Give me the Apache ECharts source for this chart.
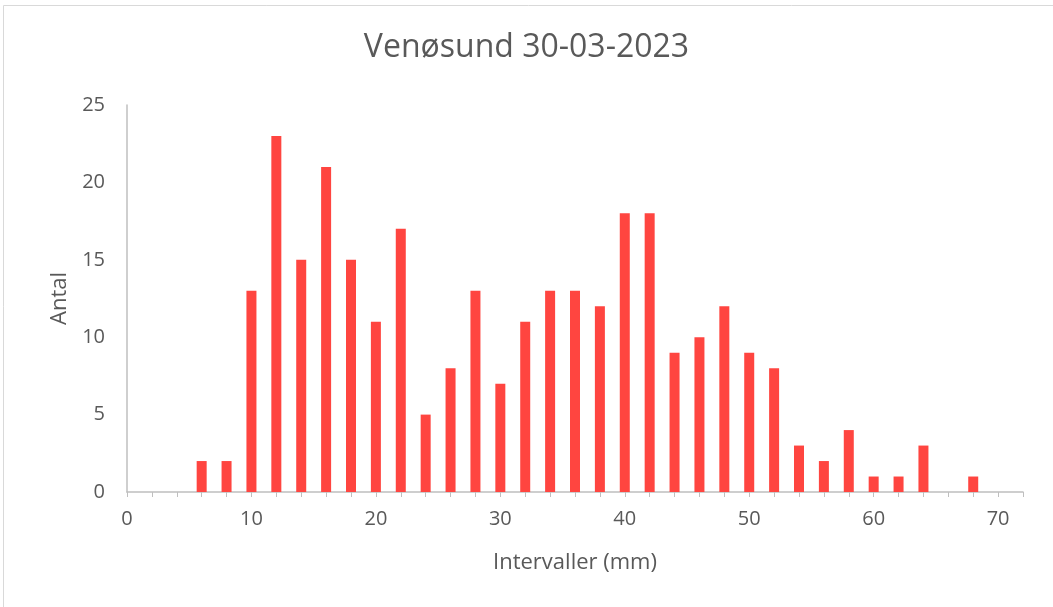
<!DOCTYPE html>
<html>
<head>
<meta charset="utf-8">
<script src="https://cdn.jsdelivr.net/npm/echarts@6/dist/echarts.min.js"></script>
<style>
  html, body { margin: 0; padding: 0; background: #fff; }
  #chart { width: 1053px; height: 607px; }
</style>
</head>
<body>
<div id="chart"></div>
<script>
  // Intervaller (mm) og antal
  const intervals = [6, 8, 10, 12, 14, 16, 18, 20, 22, 24, 26, 28, 30, 32, 34, 36, 38, 40,
    42, 44, 46, 48, 50, 52, 54, 56, 58, 60, 62, 64, 66, 68]
  const counts = [2, 2, 13, 23, 15, 21, 15, 11, 17, 5, 8, 13, 7, 11, 13, 13, 12, 18,
    18, 9, 10, 12, 9, 8, 3, 2, 4, 1, 1, 3, 0, 1]
  const yTicks = [0, 5, 10, 15, 20, 25]

  const textColor = '#595959'
  const font = '"Open Sans", "Liberation Sans", sans-serif'

  let elem = echarts.init(document.getElementById('chart'))
  let option = {
    animation: false,
    title: {
      text: 'Venøsund 30-03-2023',
      left: 'center',
      top: 27,
      textStyle: { color: textColor, fontSize: 32, fontWeight: 'normal', fontFamily: font }
    },
    graphic: [{
      type: 'rect',
      shape: { x: 3.5, y: 5.5, width: 1080, height: 640 },
      style: { fill: null, stroke: '#d9d9d9', lineWidth: 1 },
      silent: true
    }],
    grid: { left: 127, right: 30, top: 105, bottom: 115 },
    xAxis: {
      type: 'value',
      min: 0,
      max: 72,
      interval: 2,
      name: 'Intervaller (mm)',
      nameLocation: 'middle',
      nameGap: 60,
      nameTextStyle: { color: textColor, fontSize: 22, fontFamily: font },
      splitLine: { show: false },
      axisLine: { show: true, lineStyle: { color: '#bfbfbf', width: 1.5 } },
      axisTick: { show: true, length: 5, lineStyle: { color: '#bfbfbf' } },
      axisLabel: {
        color: textColor,
        fontSize: 20,
        fontFamily: font,
        margin: 17,
        formatter: v => (v % 10 === 0 && v <= 70 ? String(v) : '')
      }
    },
    yAxis: {
      type: 'value',
      min: yTicks[0],
      max: yTicks[yTicks.length - 1],
      interval: 5,
      name: 'Antal',
      nameLocation: 'middle',
      nameGap: 56,
      nameTextStyle: { color: textColor, fontSize: 22, fontFamily: font },
      splitLine: { show: false },
      axisLine: { show: true, lineStyle: { color: '#bfbfbf', width: 1.5 } },
      axisTick: { show: false },
      axisLabel: { color: textColor, fontSize: 20, fontFamily: font, margin: 22 }
    },
    series: [{
      type: 'bar',
      barWidth: 10,
      itemStyle: { color: '#ff4540' },
      data: intervals.map((x, i) => [x, counts[i]])
    }]
  }
  elem.setOption(option)
</script>
</body>
</html>
